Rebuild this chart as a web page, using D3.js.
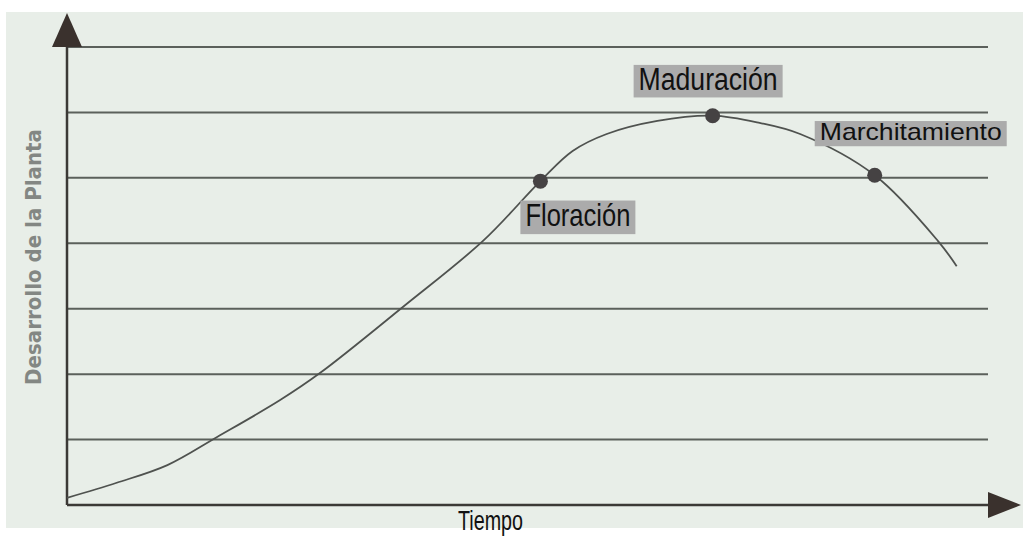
<!DOCTYPE html>
<html>
<head>
<meta charset="utf-8">
<script src="https://cdn.jsdelivr.net/npm/d3@7"></script>
<style>
  body { margin: 0; background: #fff; }
  svg { display: block; }
</style>
</head>
<body>
<div id="chart"></div>
<script>

// curve: time (0-100) vs plant development (0-7 grid units)
var tiempo     = [0, 5.4, 10.9, 16.3, 23.1, 27.5, 36.5, 45.2, 51.4, 54.9, 58.6, 64.1, 70.1, 75.2, 79.6, 87.7, 94.6, 96.6];
var desarrollo = [0.11, 0.34, 0.61, 1.04, 1.60, 2.02, 3.03, 4.04, 4.95, 5.41, 5.67, 5.87, 5.95, 5.84, 5.67, 5.04, 4.03, 3.65];

var etapas      = ["Floración", "Maduración", "Marchitamiento"];
var etapaIndice = [8, 12, 15];
var gridValues  = [1, 2, 3, 4, 5, 6, 7];

var yTitle = "Desarrollo de la Planta",
    xTitle = "Tiempo";

// label placement relative to its dot (dx, dy of text start/baseline, text size, text width)
var labelStyle = {
  "Floración":      {dx: -15, dy: 45, size: 32, w: 105},
  "Maduración":     {dx: -74, dy: -26, size: 31, w: 139},
  "Marchitamiento": {dx: -55, dy: -35, size: 24, w: 182}
};

var W = 1023, H = 538;
var svg = d3.select("#chart").append("svg")
  .attr("width", W)
  .attr("height", H);

// scanned page background
svg.append("rect")
  .attr("x", 6).attr("y", 12)
  .attr("width", W - 6).attr("height", 528 - 12)
  .attr("fill", "#e8eee8");

var xScale = d3.scaleLinear()
  .domain([0, 100])
  .range([67, 988]);

var yScale = d3.scaleLinear()
  .domain([0, 7])
  .range([505, 47]);

// horizontal grid lines
svg.append("g").selectAll("line")
    .data(gridValues)
  .enter().append("line")
    .attr("x1", xScale(0))
    .attr("x2", xScale(100))
    .attr("y1", function(d) { return yScale(d); })
    .attr("y2", function(d) { return yScale(d); })
    .attr("stroke", "#5b605b")
    .attr("stroke-width", 2);

// axes with arrow heads
var axisColor = "#3b3936";
svg.append("line")
  .attr("x1", xScale(0)).attr("x2", 995)
  .attr("y1", yScale(0)).attr("y2", yScale(0))
  .attr("stroke", axisColor).attr("stroke-width", 2.5);
svg.append("line")
  .attr("x1", xScale(0)).attr("x2", xScale(0))
  .attr("y1", yScale(0)).attr("y2", 40)
  .attr("stroke", axisColor).attr("stroke-width", 2.5);

var ax = xScale(0), ay = yScale(0);
svg.append("path")
  .attr("d", "M" + (ax - 15) + ",47 L" + ax + ",13 L" + (ax + 15) + ",47 Z")
  .attr("fill", "#3a312d");
svg.append("path")
  .attr("d", "M988," + (ay - 13) + " L1021," + ay + " L988," + (ay + 13) + " Z")
  .attr("fill", "#3a312d");

// growth curve
var pts = tiempo.map(function(t, i) { return [t, desarrollo[i]]; });
var line = d3.line()
  .x(function(d) { return xScale(d[0]); })
  .y(function(d) { return yScale(d[1]); })
  .curve(d3.curveCatmullRom);

svg.append("path")
  .datum(pts)
  .attr("d", line)
  .attr("fill", "none")
  .attr("stroke", "#4f524f")
  .attr("stroke-width", 1.8);

// stage dots and labels
etapas.forEach(function(name, k) {
  var p = pts[etapaIndice[k]];
  var cx = xScale(p[0]), cy = yScale(p[1]);
  var s = labelStyle[name];

  var g = svg.append("g");
  var tx = cx + s.dx, ty = cy + s.dy;
  g.append("rect")
    .attr("x", tx - 5)
    .attr("y", ty - s.size * 0.8)
    .attr("width", s.w + 10)
    .attr("height", s.size * 1.05)
    .attr("fill", "#ababab");
  g.append("text")
    .attr("x", tx).attr("y", ty)
    .attr("font-family", "Liberation Sans, Arial, sans-serif")
    .attr("font-size", s.size)
    .attr("textLength", s.w)
    .attr("lengthAdjust", "spacingAndGlyphs")
    .attr("fill", "#111")
    .text(name);

  svg.append("circle")
    .attr("cx", cx).attr("cy", cy)
    .attr("r", 7.5)
    .attr("fill", "#454243");
});

// axis titles
svg.append("text")
  .attr("transform", "translate(41,385) rotate(-90)")
  .attr("font-family", "DejaVu Sans, sans-serif")
  .attr("font-size", 21)
  .attr("font-weight", "bold")
  .attr("textLength", 256)
  .attr("lengthAdjust", "spacingAndGlyphs")
  .attr("fill", "#838783")
  .text(yTitle);

svg.append("text")
  .attr("x", 458).attr("y", 530)
  .attr("font-family", "Liberation Sans, Arial, sans-serif")
  .attr("font-size", 27)
  .attr("textLength", 65)
  .attr("lengthAdjust", "spacingAndGlyphs")
  .attr("fill", "#111")
  .text(xTitle);

</script>
</body>
</html>
